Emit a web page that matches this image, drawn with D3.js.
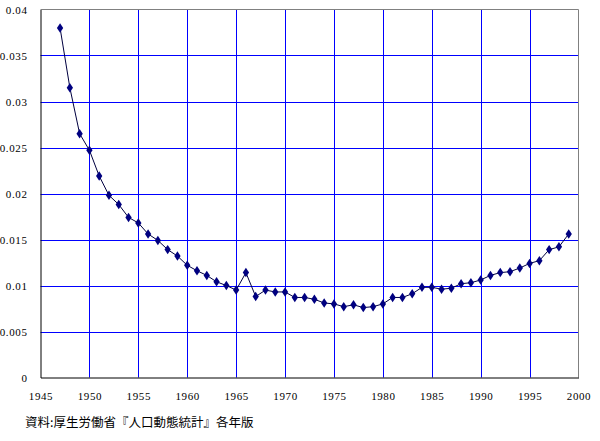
<!DOCTYPE html>
<html><head><meta charset="utf-8">
<script src="https://cdn.jsdelivr.net/npm/d3@7"></script>
<style>body{margin:0;background:#fff}svg{display:block}
.tick text{font-family:"Liberation Serif","DejaVu Serif",serif !important;font-size:11px;letter-spacing:0.6px}</style>
</head><body><svg id="c" width="600" height="441"></svg>
<script>
const years = d3.range(1947, 2000);
const values = [0.0380,0.0315,0.0265,0.0247,0.0219,0.0198,0.0188,0.0174,0.0168,0.0156,
0.0149,0.0139,0.0132,0.0122,0.0116,0.0111,0.0104,0.0100,0.0095,0.0114,
0.0088,0.0095,0.0093,0.0093,0.0087,0.0087,0.0085,0.0081,0.0080,0.0077,
0.0079,0.0076,0.0077,0.0080,0.0087,0.0087,0.0091,0.0098,0.0098,0.0096,
0.0097,0.0102,0.0103,0.0106,0.0111,0.0114,0.0115,0.0119,0.0124,0.0127,
0.0139,0.0142,0.0156];
const xTicks = [1945,1950,1955,1960,1965,1970,1975,1980,1985,1990,1995,2000];
const yTicks = [0,0.005,0.01,0.015,0.02,0.025,0.03,0.035,0.04];
const yLabels = ["0","0.005","0.01","0.015","0.02","0.025","0.03","0.035","0.04"];
const source = "資料:厚生労働省『人口動態統計』各年版";

const svg = d3.select("#c");
const L=40.5, R=578.5, T=9.5, B=377.5;
const x = d3.scaleLinear().domain([1945,2000]).range([L,R]);
const y = d3.scaleLinear().domain([0,0.04]).range([B,T]);

// gridlines
svg.append("g").selectAll("line").data(yTicks.slice(1,-1)).join("line")
  .attr("x1",L).attr("x2",R).attr("y1",d=>Math.round(y(d))+0.5).attr("y2",d=>Math.round(y(d))+0.5)
  .attr("stroke","#0000ff").attr("stroke-width",1);
svg.append("g").selectAll("line").data(xTicks.slice(1,-1)).join("line")
  .attr("y1",T).attr("y2",B).attr("x1",d=>Math.round(x(d))+0.5).attr("x2",d=>Math.round(x(d))+0.5)
  .attr("stroke","#0000ff").attr("stroke-width",1);
// border
svg.append("line").attr("x1",L).attr("x2",R).attr("y1",T).attr("y2",T).attr("stroke","#808080");
svg.append("line").attr("x1",R).attr("x2",R).attr("y1",T).attr("y2",B).attr("stroke","#808080");

// axes
const yAxis = d3.axisLeft(y).tickValues(yTicks).tickSize(0).tickPadding(13)
  .tickFormat((d,i)=>yLabels[i]);
const gy = svg.append("g").attr("transform",`translate(${L},0)`).call(yAxis);
const xAxis = d3.axisBottom(x).tickValues(xTicks).tickSize(0).tickPadding(15).tickFormat(d3.format("d"));
const gx = svg.append("g").attr("transform",`translate(0,${B})`).call(xAxis);
[gx,gy].forEach(g=>{
  g.attr("font-family",null).attr("font-size",null);
  g.select(".domain").attr("stroke","#000");
  g.selectAll("text").attr("fill","#000");
});

// line
const pts = years.map((yr,i)=>[yr,values[i]]);
svg.append("path").datum(pts)
  .attr("d",d3.line().x(d=>x(d[0])).y(d=>y(d[1])))
  .attr("fill","none").attr("stroke","#000040").attr("stroke-width",1);
svg.append("g").selectAll("path").data(pts).join("path")
  .attr("d",d3.symbol(d3.symbolDiamond,26)())
  .attr("transform",d=>`translate(${x(d[0])},${y(d[1])}) scale(1.15,1)`)
  .attr("fill","#000080");

svg.append("text").attr("x",25).attr("y",427).text(source)
  .attr("font-family","Noto Sans CJK JP").attr("font-size","12.5px").attr("fill","#000");
</script></body></html>
